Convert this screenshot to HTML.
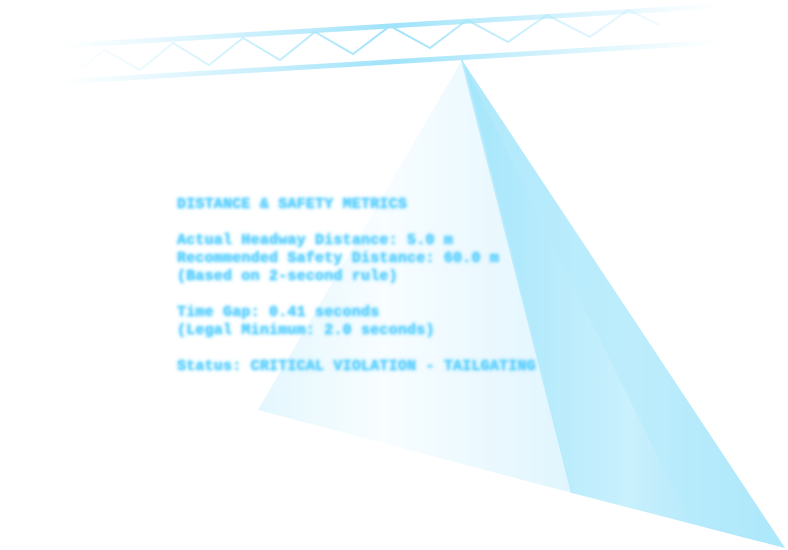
<!DOCTYPE html>
<html><head><style>
html,body{margin:0;padding:0;background:#fff;width:788px;height:550px;overflow:hidden}
svg{position:absolute;left:0;top:0}
.t{position:absolute;left:177px;top:196px;font-family:"Liberation Mono",monospace;font-size:15px;line-height:18px;letter-spacing:0.2px;color:#5cd0ff;font-weight:bold;white-space:pre;filter:blur(1.2px);text-shadow:0 0 3px #5fd0ff}
</style></head><body>
<svg width="788" height="550" viewBox="0 0 788 550">
<defs>
<linearGradient id="lf" x1="258" y1="0" x2="572" y2="0" gradientUnits="userSpaceOnUse">
<stop offset="0" stop-color="#e4f7fe"/><stop offset="0.4" stop-color="#f8fdff"/><stop offset="1" stop-color="#e0f5fe"/></linearGradient>
<linearGradient id="rf" x1="470" y1="0" x2="785" y2="0" gradientUnits="userSpaceOnUse">
<stop offset="0" stop-color="#a6e6fb"/><stop offset="0.5" stop-color="#c9f0fd"/><stop offset="1" stop-color="#9fe2fa"/></linearGradient>
<linearGradient id="bar" x1="60" y1="0" x2="720" y2="0" gradientUnits="userSpaceOnUse">
<stop offset="0" stop-color="#b0e8fb" stop-opacity="0"/><stop offset="0.5" stop-color="#9fe3fa"/><stop offset="1" stop-color="#b0e8fb" stop-opacity="0"/></linearGradient>
</defs>
<polygon points="462,60 258,410 572,493" fill="url(#lf)"/>
<polygon points="462,60 572,493 785,548" fill="url(#rf)"/>
<polygon points="462,60 690,522 785,548" fill="#b5ebfc" opacity="0.6"/>
<line x1="462" y1="60" x2="572" y2="493" stroke="#b8ecfd" stroke-width="2"/>
<line x1="60" y1="46" x2="720" y2="6" stroke="url(#bar)" stroke-width="5"/>
<line x1="60" y1="82" x2="720" y2="42" stroke="url(#bar)" stroke-width="5"/>
<polyline points="75,72 105,50 140,70 173,43 209,65 243,38 280,60 315,32 353,54 390,26 430,48 467,20 508,42 547,15 590,37 628,10 660,25" fill="none" stroke="url(#bar)" stroke-width="2"/>
</svg>
<div class="t">DISTANCE &amp; SAFETY METRICS

Actual Headway Distance: 5.0 m
Recommended Safety Distance: 60.0 m
(Based on 2-second rule)

Time Gap: 0.41 seconds
(Legal Minimum: 2.0 seconds)

Status: CRITICAL VIOLATION - TAILGATING</div>
</body></html>
